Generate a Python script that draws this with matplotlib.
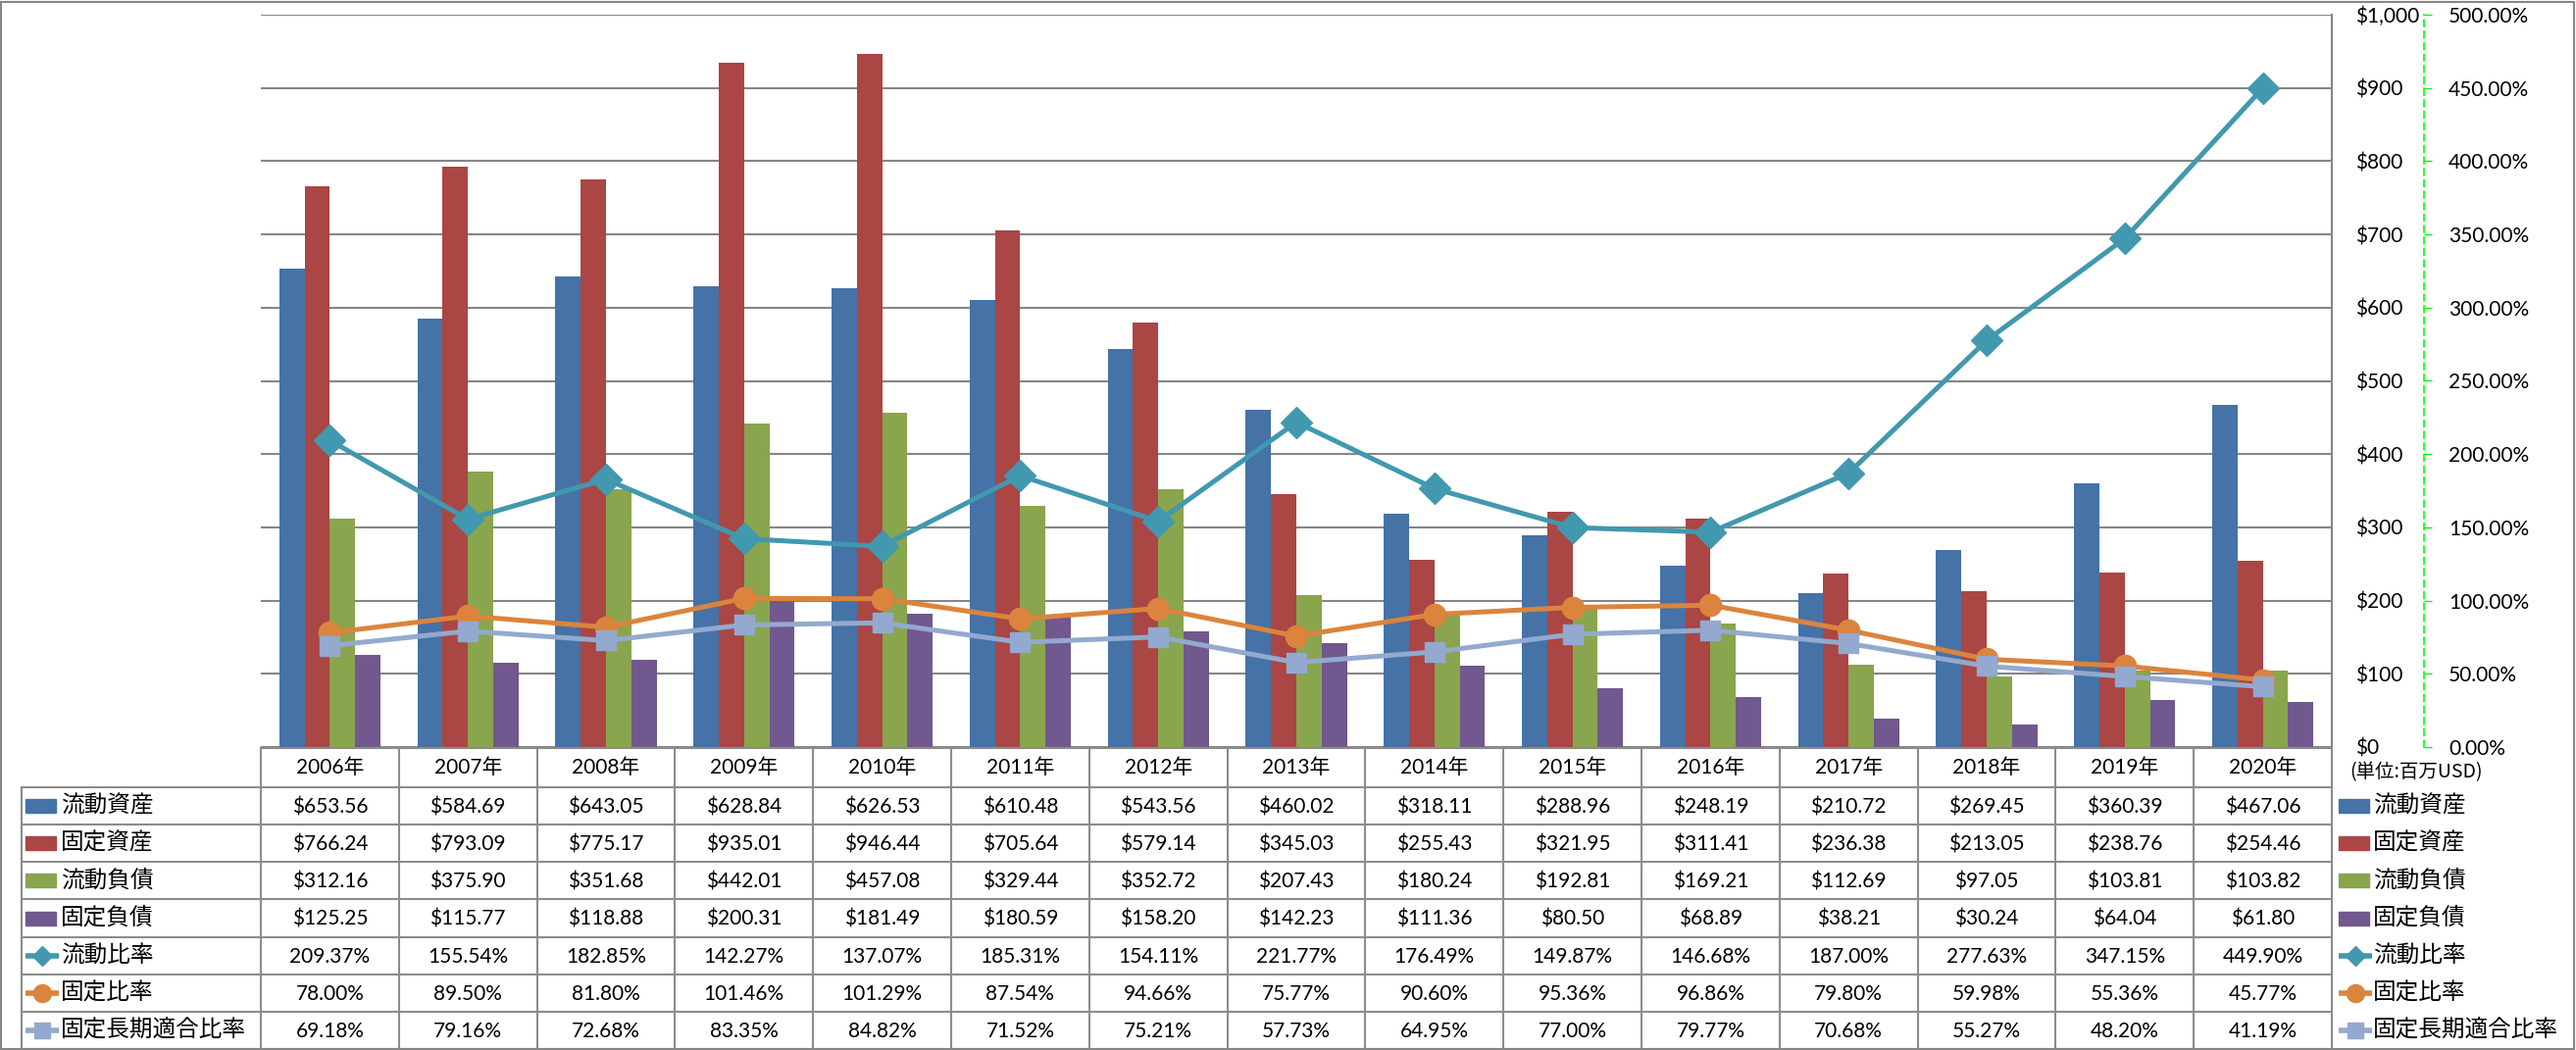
import matplotlib
matplotlib.use('Agg')
import matplotlib.pyplot as plt
from matplotlib.ticker import FuncFormatter, MultipleLocator
from matplotlib.patches import Rectangle
import numpy as np

plt.rcParams['font.family'] = ['Lato', 'Noto Sans CJK JP', 'DejaVu Sans']

years = ['2006年', '2007年', '2008年', '2009年', '2010年', '2011年', '2012年', '2013年',
         '2014年', '2015年', '2016年', '2017年', '2018年', '2019年', '2020年']
current_assets = [653.56, 584.69, 643.05, 628.84, 626.53, 610.48, 543.56, 460.02,
                  318.11, 288.96, 248.19, 210.72, 269.45, 360.39, 467.06]
fixed_assets = [766.24, 793.09, 775.17, 935.01, 946.44, 705.64, 579.14, 345.03,
                255.43, 321.95, 311.41, 236.38, 213.05, 238.76, 254.46]
current_liab = [312.16, 375.90, 351.68, 442.01, 457.08, 329.44, 352.72, 207.43,
                180.24, 192.81, 169.21, 112.69, 97.05, 103.81, 103.82]
fixed_liab = [125.25, 115.77, 118.88, 200.31, 181.49, 180.59, 158.20, 142.23,
              111.36, 80.50, 68.89, 38.21, 30.24, 64.04, 61.80]
current_ratio = [209.37, 155.54, 182.85, 142.27, 137.07, 185.31, 154.11, 221.77,
                 176.49, 149.87, 146.68, 187.00, 277.63, 347.15, 449.90]
fixed_ratio = [78.00, 89.50, 81.80, 101.46, 101.29, 87.54, 94.66, 75.77,
               90.60, 95.36, 96.86, 79.80, 59.98, 55.36, 45.77]
fixed_long_ratio = [69.18, 79.16, 72.68, 83.35, 84.82, 71.52, 75.21, 57.73,
                    64.95, 77.00, 79.77, 70.68, 55.27, 48.20, 41.19]

bar_names = ['流動資産', '固定資産', '流動負債', '固定負債']
line_names = ['流動比率', '固定比率', '固定長期適合比率']
unit_label = '(単位:百万USD)'

bar_series = [current_assets, fixed_assets, current_liab, fixed_liab]
line_series = [current_ratio, fixed_ratio, fixed_long_ratio]
bar_colors = ['#4572A7', '#AA4643', '#89A54E', '#71588F']
line_colors = ['#4198AF', '#DB843D', '#93A9CF']
line_markers = ['D', 'o', 's']
line_ms = [16, 16, 15]
legend_ms = [10, 13, 12]

W, H = 2627, 1071
fig = plt.figure(figsize=(W / 100, H / 100), dpi=100)
fig.patch.set_facecolor('white')

pl, pr, pt, pb = 266, 2378, 15, 762
ax = fig.add_axes([pl / W, 1 - pb / H, (pr - pl) / W, (pb - pt) / H])
n = len(years)
x = np.arange(n)
ax.set_xlim(-0.5, n - 0.5)
ax.set_ylim(0, 1000)
bw = 0.183
for i, (vals, col) in enumerate(zip(bar_series, bar_colors)):
    ax.bar(x + (i - 1.5) * bw, vals, width=bw, color=col, zorder=2)
ax.yaxis.set_major_locator(MultipleLocator(100))
ax.yaxis.grid(True, color='#868686', lw=1.5, zorder=0)
ax.set_axisbelow(True)
ax.set_xticks([])

ax2 = ax.twinx()
for s in ['left', 'top', 'bottom']:
    ax.spines[s].set_visible(False)
ax.spines['right'].set_color('#868686')
ax.spines['right'].set_linewidth(1.5)
ax.yaxis.tick_right()
ax.tick_params(axis='y', length=0, pad=17, labelsize=15)
ax.yaxis.set_major_formatter(FuncFormatter(lambda v, p: '${:,.0f}'.format(v)))

ax2.set_ylim(0, 500)
ax2.spines['right'].set_position(('axes', (2472 - pl) / (pr - pl)))
ax2.spines['right'].set_color('#00FF00')
ax2.spines['right'].set_linestyle((0, (4, 3)))
ax2.spines['right'].set_linewidth(1.2)
for s in ['left', 'top', 'bottom']:
    ax2.spines[s].set_visible(False)
ax2.yaxis.set_major_locator(MultipleLocator(50))
ax2.tick_params(axis='y', direction='out', length=6, width=1, color='#00FF00',
                pad=12, labelsize=15)
ax2.yaxis.set_major_formatter(FuncFormatter(lambda v, p: '{:.2f}%'.format(v)))
for vals, col, mk, ms in zip(line_series, line_colors, line_markers, line_ms):
    ax2.plot(x, vals, color=col, lw=3.6, marker=mk, ms=ms, mec=col, mfc=col,
             zorder=3, clip_on=False)

# data table
tt = 763
tax = fig.add_axes([pl / W, 0, (pr - pl) / W, (H - tt) / H])
tax.set_xlim(-0.5, n - 0.5)
tax.set_ylim(H, tt)
tax.axis('off')
upx = (pr - pl) / n
def ux(px):
    return -0.5 + (px - pl) / upx

gc = '#8C8C8C'
row0 = 803
rh = (1070 - row0) / 7
rows = [row0 + k * rh for k in range(8)]
xl = ux(22)
tax.plot([-0.5, n - 0.5], [tt, tt], color=gc, lw=1.5, clip_on=False)
for r in rows:
    tax.plot([xl, n - 0.5], [r, r], color=gc, lw=1.5, clip_on=False)
for k in range(n + 1):
    tax.plot([k - 0.5, k - 0.5], [tt, rows[-1]], color=gc, lw=1.5, clip_on=False)
tax.plot([xl, xl], [row0, rows[-1]], color=gc, lw=1.5, clip_on=False)

for k, yr in enumerate(years):
    tax.text(k, (tt + row0) / 2, yr, ha='center', va='center', fontsize=15)

cells = [['${:.2f}'.format(v) for v in s] for s in bar_series] + \
        [['{:.2f}%'.format(v) for v in s] for s in line_series]
for r, rowvals in enumerate(cells):
    yc = (rows[r] + rows[r + 1]) / 2
    for k, txt in enumerate(rowvals):
        tax.text(k, yc + 1, txt, ha='center', va='center', fontsize=15)

names = bar_names + line_names
for side in ['left', 'right']:
    if side == 'left':
        p0, p1, tx = 26, 57, 62
    else:
        p0, p1, tx = 2385, 2416, 2420
    for r, nm in enumerate(names):
        yc = (rows[r] + rows[r + 1]) / 2
        if r < 4:
            tax.add_patch(Rectangle((ux(p0), yc - 7), ux(p1) - ux(p0), 14,
                                    color=bar_colors[r], clip_on=False))
        else:
            j = r - 4
            tax.plot([ux(p0), ux(p1 + 3)], [yc, yc], color=line_colors[j], lw=4,
                     clip_on=False, solid_capstyle='butt')
            tax.plot([ux((p0 + p1 + 3) / 2)], [yc], marker=line_markers[j],
                     ms=legend_ms[j], color=line_colors[j], clip_on=False)
        tax.text(ux(tx), yc, nm, ha='left', va='center', fontsize=17,
                 family=['Noto Sans CJK JP', 'DejaVu Sans'])

tax.text(ux(2396), 788, unit_label, ha='left', va='center', fontsize=14,
         family=['Noto Sans CJK JP', 'DejaVu Sans'])

fig.add_artist(Rectangle((1 / W, 1 / H), (W - 3) / W, (H - 3) / H,
                         transform=fig.transFigure, fill=False, ec='#868686', lw=1.5))

fig.savefig('out.png', dpi=100, facecolor='white')
